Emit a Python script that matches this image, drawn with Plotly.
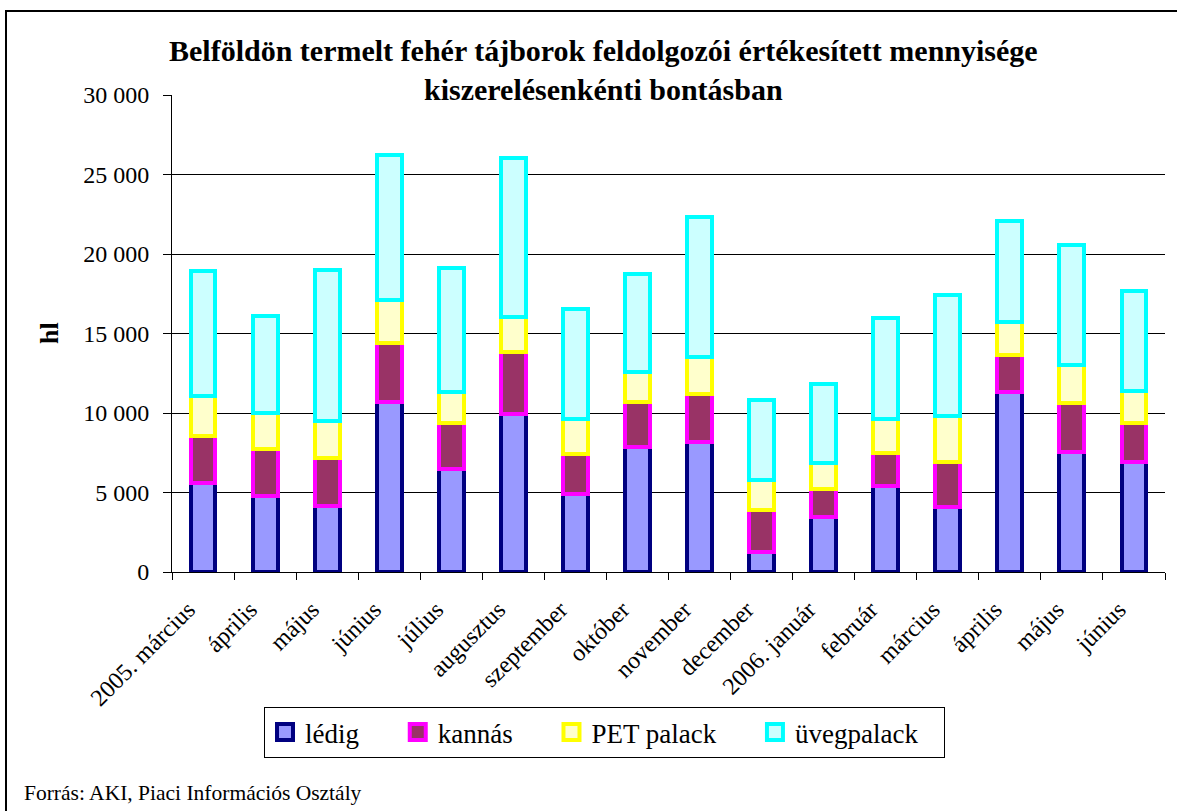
import plotly.graph_objects as go

categories = ["2005. március", "április", "május", "június", "július", "augusztus",
              "szeptember", "október", "november", "december", "2006. január",
              "február", "március", "április", "május", "június"]

ledig = [5600, 4800, 4150, 10700, 6500, 9950, 4900, 7850, 8200, 1250, 3450, 5400, 4100, 11300, 7550, 6900]
kannas = [2950, 2940, 3000, 3680, 2850, 3870, 2550, 2850, 3000, 2650, 1750, 2100, 2850, 2350, 3050, 2450]
pet_palack = [2550, 2240, 2370, 2720, 2000, 2230, 2200, 1900, 2300, 1900, 1650, 2150, 2850, 2050, 2450, 2050]
uvegpalack = [7850, 6140, 9500, 9130, 7800, 10000, 6900, 6150, 8800, 5000, 5000, 6300, 7650, 6350, 7500, 6250]

series_names = ["lédig", "kannás", "PET palack", "üvegpalack"]
fill_colors = ["#9999FF", "#993366", "#FFFFCC", "#CCFFFF"]
line_colors = ["#000080", "#FF00FF", "#FFFF00", "#00FFFF"]

title_line1 = "Belföldön termelt fehér tájborok feldolgozói értékesített mennyisége"
title_line2 = "kiszerelésenkénti bontásban"
y_title = "hl"
source_text = "Forrás: AKI, Piaci Információs Osztály"

FONT = "Liberation Serif, Times New Roman, serif"
NBSP = "\u00a0"

x_pos = list(range(len(categories)))

fig = go.Figure()
for name, vals, fc, lc in zip(series_names, [ledig, kannas, pet_palack, uvegpalack], fill_colors, line_colors):
    fig.add_trace(go.Bar(
        x=x_pos, y=vals, name=name, width=0.40, showlegend=False,
        marker=dict(color=fc, line=dict(color=lc, width=4)),
    ))
# legend entries (larger square symbols like the original; padded names for spacing)
n_series = len(series_names)
for i, (name, fc, lc) in enumerate(zip(series_names, fill_colors, line_colors)):
    pad = NBSP * (5 if i < n_series - 1 else 3)
    fig.add_trace(go.Scatter(
        x=[None], y=[None], mode="markers", name=name + pad, showlegend=True,
        marker=dict(symbol="square", size=16, color=fc, line=dict(color=lc, width=4)),
    ))

W, H = 1177, 811
L, R, T, B = 172, 12, 95, 239
pw, ph = W - L - R, H - T - B

def px_x(x):
    return (x - L) / pw

def px_y(y):
    return (H - B - y) / ph

fig.update_layout(
    width=W, height=H,
    barmode="stack",
    paper_bgcolor="white", plot_bgcolor="white",
    margin=dict(l=L, r=R, t=T, b=B, autoexpand=False),
    separators=". ",
    font=dict(family=FONT, color="black", size=22),
    showlegend=True,
    legend=dict(
        orientation="h", x=px_x(264), y=px_y(707), xanchor="left", yanchor="top",
        bordercolor="black", borderwidth=1, bgcolor="white",
        font=dict(family=FONT, size=27, color="black"),
        traceorder="normal", itemwidth=30,
    ),
    xaxis=dict(
        range=[-0.5, len(categories) - 0.5],
        tickmode="array", tickvals=x_pos, ticktext=categories,
        tickangle=-45, ticks="", showgrid=False, zeroline=False,
        showline=True, linecolor="black", linewidth=1, automargin=False,
        tickfont=dict(family=FONT, size=24, color="black"),
        ticklabelshift=-15, ticklabelstandoff=13,
        minor=dict(tick0=-0.5, dtick=1, ticks="outside", ticklen=7, tickcolor="black", showgrid=False),
    ),
    yaxis=dict(
        range=[0, 30000], dtick=5000, tickformat=",d",
        ticks="outside", ticklen=8, tickcolor="black", automargin=False,
        showline=True, linecolor="black", linewidth=1,
        showgrid=True, gridcolor="black", gridwidth=1, zeroline=False,
        tickfont=dict(family=FONT, size=24, color="black"),
        ticklabelstandoff=9,
    ),
    shapes=[dict(type="rect", xref="paper", yref="paper",
                 x0=px_x(6), x1=px_x(1240), y0=px_y(11), y1=px_y(900),
                 line=dict(color="black", width=2), fillcolor="rgba(0,0,0,0)", layer="above")],
    annotations=[
        dict(text="<b>" + title_line1 + "</b>", xref="paper", yref="paper",
             x=px_x(603), y=px_y(50), xanchor="center", yanchor="middle", showarrow=False,
             font=dict(family=FONT, size=30, color="black")),
        dict(text="<b>" + title_line2 + "</b>", xref="paper", yref="paper",
             x=px_x(603), y=px_y(89), xanchor="center", yanchor="middle", showarrow=False,
             bgcolor="white", borderpad=0,
             font=dict(family=FONT, size=30, color="black")),
        dict(text="<b>" + y_title + "</b>", xref="paper", yref="paper",
             x=px_x(49), y=px_y(333), xanchor="center", yanchor="middle", showarrow=False,
             textangle=-90, font=dict(family=FONT, size=26, color="black")),
        dict(text=source_text, xref="paper", yref="paper",
             x=px_x(22), y=px_y(793), xanchor="left", yanchor="middle", showarrow=False,
             font=dict(family=FONT, size=21.5, color="black")),
    ],
)

fig.write_html("out.html", config={"displayModeBar": False},
               post_script="document.body.style.margin='0px';")
